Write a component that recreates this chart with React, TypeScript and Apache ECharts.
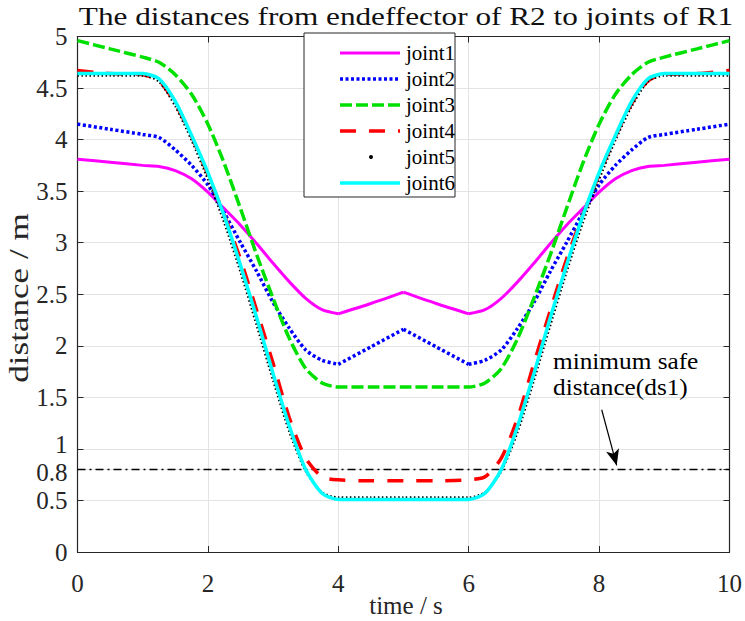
import React, { useEffect, useRef } from "react";
import * as echarts from "echarts";

const titleText = "The distances from endeffector of R2 to joints of R1";
const xName = "time / s";
const yName = "distance / m";

const time = [0, 0.5, 1, 1.25, 1.5, 1.75, 2, 2.25, 2.5, 2.75, 3, 3.25, 3.5, 3.75, 4, 4.5, 5,
  5.5, 6, 6.25, 6.5, 6.75, 7, 7.25, 7.5, 7.75, 8, 8.25, 8.5, 8.75, 9, 9.5, 10];

const joint1 = [3.81, 3.78, 3.75, 3.74, 3.70, 3.62, 3.49, 3.33, 3.17, 2.99, 2.80, 2.62, 2.46, 2.35, 2.31, 2.41, 2.52,
  2.41, 2.31, 2.35, 2.46, 2.62, 2.80, 2.99, 3.17, 3.33, 3.49, 3.62, 3.70, 3.74, 3.75, 3.78, 3.81];
const joint2 = [4.15, 4.10, 4.05, 4.02, 3.90, 3.75, 3.56, 3.29, 3.00, 2.72, 2.42, 2.17, 1.96, 1.86, 1.82, 1.99, 2.16,
  1.99, 1.82, 1.86, 1.96, 2.17, 2.42, 2.72, 3.00, 3.29, 3.56, 3.75, 3.90, 4.02, 4.05, 4.10, 4.15];
const joint3 = [4.96, 4.88, 4.80, 4.75, 4.63, 4.44, 4.15, 3.77, 3.33, 2.88, 2.46, 2.07, 1.78, 1.64, 1.60, 1.60, 1.60,
  1.60, 1.60, 1.64, 1.78, 2.07, 2.46, 2.88, 3.33, 3.77, 4.15, 4.44, 4.63, 4.75, 4.80, 4.88, 4.96];
const joint4 = [4.67, 4.64, 4.63, 4.57, 4.35, 4.03, 3.66, 3.27, 2.84, 2.34, 1.83, 1.30, 0.91, 0.73, 0.70, 0.69, 0.69,
  0.69, 0.70, 0.73, 0.91, 1.30, 1.83, 2.34, 2.84, 3.27, 3.66, 4.03, 4.35, 4.57, 4.63, 4.64, 4.67];
const joint5 = [4.62, 4.62, 4.62, 4.56, 4.32, 3.99, 3.61, 3.19, 2.71, 2.19, 1.66, 1.16, 0.78, 0.58, 0.53, 0.53, 0.53,
  0.53, 0.53, 0.58, 0.78, 1.16, 1.66, 2.19, 2.71, 3.19, 3.61, 3.99, 4.32, 4.56, 4.62, 4.62, 4.62];
const joint6 = [4.64, 4.64, 4.64, 4.59, 4.37, 4.04, 3.68, 3.26, 2.78, 2.27, 1.73, 1.22, 0.80, 0.57, 0.51, 0.51, 0.51,
  0.51, 0.51, 0.57, 0.80, 1.22, 1.73, 2.27, 2.78, 3.26, 3.68, 4.04, 4.37, 4.59, 4.64, 4.64, 4.64];

const seriesNames = ["joint1", "joint2", "joint3", "joint4", "joint5", "joint6"];
const seriesValues = [joint1, joint2, joint3, joint4, joint5, joint6];
// times where a curve has a sharp corner (kept unsmoothed)
const cornerTimes = [[4, 5, 6], [4, 5, 6], [], [], [], []];

const safeDistance = 0.8;
const safeRange = [0, 10];
const arrowFrom = [8.04, 1.38];
const arrowTo = [8.27, 0.84];
const annotationLines = ["minimum safe", "distance(ds1)"];

const yLabels = [0, 0.5, 0.8, 1, 1.5, 2, 2.5, 3, 3.5, 4, 4.5, 5];

const FONT = "'Liberation Serif', 'Times New Roman', serif";
const AXIS_COLOR = "#262626";

const styles = [
  { color: "#ff00ff", width: 3, type: "solid" as any },
  { color: "#0000ff", width: 3.5, type: [3, 2.5] as any },
  { color: "#00e000", width: 3.5, type: [12, 4] as any },
  { color: "#ff0000", width: 3.5, type: [16, 13] as any },
  { color: "#000000", width: 2, type: [1.5, 2.5] as any },
  { color: "#00ffff", width: 3.5, type: "solid" as any },
];

function splitAt(points: number[][], corners: number[]) {
  const segs: number[][][] = [];
  let cur: number[][] = [];
  points.forEach((p) => {
    cur.push(p);
    if (corners.includes(p[0])) {
      segs.push(cur);
      cur = [p];
    }
  });
  if (cur.length > 1) segs.push(cur);
  return segs;
}

export default function App() {
  const ref = useRef<HTMLDivElement>(null);
  useEffect(() => {
    if (!ref.current) return;
    const chart = echarts.init(ref.current, null, { renderer: "svg" });

    const series: any[] = [];
    seriesNames.forEach((name, i) => {
      const pts = time.map((t, k) => [t, seriesValues[i][k]]);
      splitAt(pts, cornerTimes[i]).forEach((seg, j) => {
        series.push({
          name: name,
          id: name + "_" + j,
          type: "line",
          data: seg,
          showSymbol: false,
          symbol: "none",
          smooth: 0.25,
          lineStyle: { color: styles[i].color, width: styles[i].width, type: styles[i].type, cap: "butt" },
          z: 3 + i,
          silent: true,
        });
      });
    });

    series.push({
      name: "ds1",
      type: "line",
      data: safeRange.map((t) => [t, safeDistance]),
      showSymbol: false,
      symbol: "none",
      lineStyle: { color: "#000", width: 1.5, type: [8, 4, 2, 4] },
      z: 2,
      silent: true,
      markLine: {
        silent: true,
        symbol: ["none", "arrow"],
        symbolSize: [10, 16],
        label: { show: false },
        lineStyle: { color: "#000", width: 1.2, type: "solid" },
        data: [[{ coord: arrowFrom }, { coord: arrowTo }]],
      },
    });

    const legendX = 304, legendY = 33, legendW = 151, legendH = 164;
    const graphic: any[] = [
      {
        type: "text",
        x: 406,
        y: 17,
        scaleX: 1.25,
        style: { text: titleText, fontFamily: FONT, fontSize: 25, fill: "#111", align: "center", verticalAlign: "middle" },
        z: 60,
      },
      {
        type: "text",
        x: 406,
        y: 605,
        style: { text: xName, fontFamily: FONT, fontSize: 25, fill: AXIS_COLOR, align: "center", verticalAlign: "middle" },
        z: 60,
      },
      {
        type: "text",
        x: 19,
        y: 298,
        rotation: Math.PI / 2,
        scaleX: 1.3,
        style: { text: yName, fontFamily: FONT, fontSize: 27, fill: AXIS_COLOR, align: "center", verticalAlign: "middle" },
        z: 60,
      },
      {
        type: "rect",
        shape: { x: legendX, y: legendY, width: legendW, height: legendH },
        style: { fill: "#fff", stroke: AXIS_COLOR, lineWidth: 1 },
        z: 50,
      },
    ];
    seriesNames.forEach((name, i) => {
      const y = 53 + i * 26;
      if (i === 4) {
        graphic.push({
          type: "circle",
          shape: { cx: 371, cy: y, r: 2 },
          style: { fill: "#000" },
          z: 51,
        });
      } else {
        const t = styles[i].type;
        graphic.push({
          type: "line",
          shape: { x1: 340, y1: y, x2: 400, y2: y },
          style: {
            stroke: styles[i].color,
            lineWidth: styles[i].width,
            lineDash: Array.isArray(t) ? t : null,
          },
          z: 51,
        });
      }
      graphic.push({
        type: "text",
        x: 406,
        y,
        style: { text: name, fontFamily: FONT, fontSize: 21, fill: "#000", verticalAlign: "middle", align: "left" },
        z: 51,
      });
    });
    annotationLines.forEach((line, i) => {
      graphic.push({
        type: "text",
        x: 553,
        y: 361 + i * 26,
        scaleX: 1.1,
        style: { text: line, fontFamily: FONT, fontSize: 23, fill: "#000", verticalAlign: "middle", align: "left" },
        z: 51,
      });
    });

    const baseAxis = {
      axisLine: { show: true, onZero: false, lineStyle: { color: AXIS_COLOR, width: 1.2 } },
      axisTick: { show: true, inside: true, length: 6, lineStyle: { color: AXIS_COLOR } },
    };

    const labelToken = { fontFamily: FONT, fontSize: 25, lineHeight: 18, color: AXIS_COLOR };

    chart.setOption({
      animation: false,
      backgroundColor: "#fff",
      grid: { left: 77.5, right: 11.5, top: 36.5, bottom: 69, containLabel: false },
      xAxis: [
        {
          type: "value",
          min: 0,
          max: 10,
          interval: 2,
          ...baseAxis,
          axisLabel: { fontFamily: FONT, fontSize: 25, color: AXIS_COLOR, margin: 19 },
          splitLine: { show: true, lineStyle: { color: "#e3e3e3", width: 1 } },
        },
        {
          type: "value",
          position: "top",
          min: 0,
          max: 10,
          interval: 2,
          ...baseAxis,
          axisLabel: { show: false },
          splitLine: { show: false },
        },
      ],
      yAxis: [
        {
          type: "value",
          min: 0,
          max: 5,
          interval: 0.5,
          ...baseAxis,
          axisTick: { show: true, inside: true, length: 6, lineStyle: { color: AXIS_COLOR }, customValues: yLabels },
          axisLabel: {
            fontFamily: FONT,
            fontSize: 25,
            lineHeight: 18,
            color: AXIS_COLOR,
            margin: 10,
            customValues: yLabels,
            formatter: (v: number) =>
              v === 1 ? "{n|1}\n{gapA| }" : v === 0.8 ? "{gapB| }\n{n|0.8}" : "{n|" + String(v) + "}",
            rich: {
              n: labelToken,
              gapA: { fontSize: 4, lineHeight: 8 },
              gapB: { fontSize: 4, lineHeight: 6 },
            },
          },
          splitLine: { show: true, lineStyle: { color: "#e3e3e3", width: 1 } },
        },
        {
          type: "value",
          position: "right",
          min: 0,
          max: 5,
          interval: 0.5,
          ...baseAxis,
          axisTick: { show: true, inside: true, length: 6, lineStyle: { color: AXIS_COLOR }, customValues: yLabels },
          axisLabel: { show: false },
          splitLine: { show: false },
        },
      ],
      series,
      graphic,
    });
    return () => chart.dispose();
  }, []);
  return <div ref={ref} style={{ width: 745, height: 621, position: "absolute", left: 0, top: 0 }} />;
}
